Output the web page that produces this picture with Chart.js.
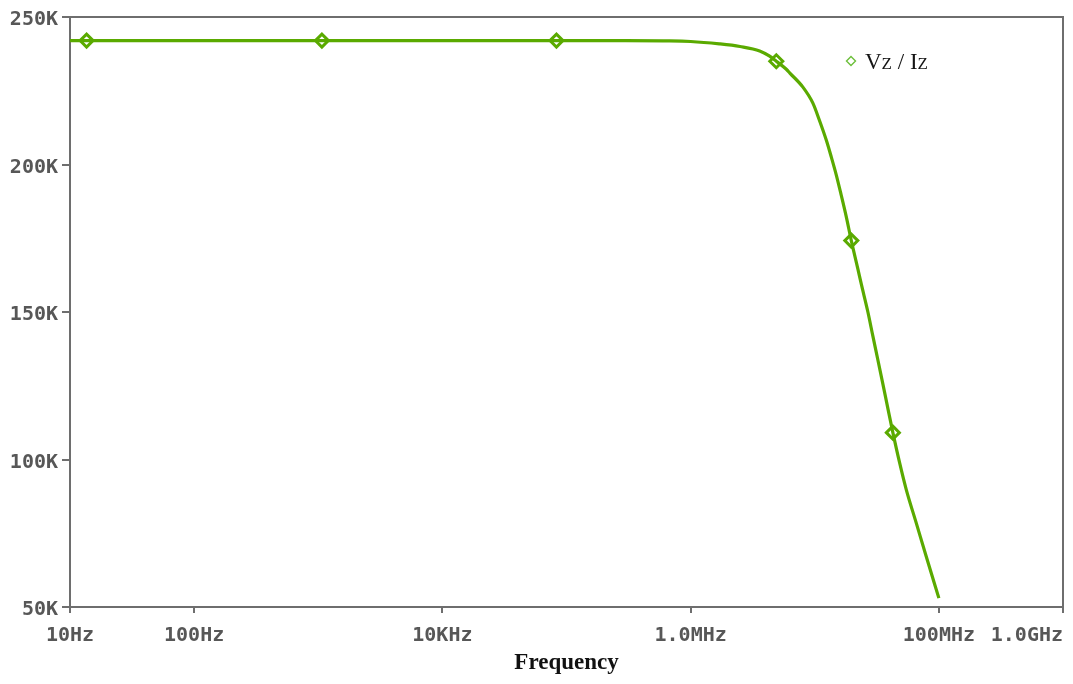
<!DOCTYPE html>
<html>
<head>
<meta charset="utf-8">
<script src="https://cdn.jsdelivr.net/npm/chart.js@4/dist/chart.umd.min.js"></script>
<style>
  html, body { margin: 0; padding: 0; background: #ffffff; }
  #wrap { width: 1073px; height: 684px; position: relative; }
</style>
</head>
<body>
<div id="wrap"><canvas id="c" width="1073" height="684"></canvas></div>
<script>
// ---- data ----
const freqHz = [10, 100, 1e3, 1e4, 1e5, 3e5, 6e5, 1.0e6, 1.7e6, 2.5e6, 3.6e6, 4.3e6, 4.9e6, 5.9e6, 6.3e6, 8.0e6, 9.66e6,
  10.9e6, 12.4e6, 13.6e6, 14.9e6, 16.3e6, 17.9e6, 19.7e6, 22.2e6, 23.7e6, 26.8e6, 29.4e6, 32.2e6, 35.3e6, 38.7e6, 42.6e6,
  48.2e6, 54.6e6, 65.6e6, 79.0e6, 100e6];
const impedance = [242000, 242000, 242000, 242000, 242000, 242000, 241900, 241700, 240900, 240000, 238500, 236800, 235000, 232300, 231000, 226300, 220800,
  215000, 208200, 202500, 196500, 189800, 182500, 174200, 164800, 159500, 150000, 141800, 133900, 125800, 117600, 109100,
  99000, 89800, 78600, 67200, 53000];
const markerFreqHz = [13.6, 1.07e3, 83e3, 4.9e6, 19.7e6, 42.6e6];
const markerImpedance = [242000, 242000, 242000, 235000, 174200, 109100];
const xTickValues = [10, 100, 1e4, 1e6, 1e8, 1e9];
const xTickLabels = ['10Hz', '100Hz', '10KHz', '1.0MHz', '100MHz', '1.0GHz'];
const yTickValues = [50000, 100000, 150000, 200000, 250000];
const yTickLabels = ['50K', '100K', '150K', '200K', '250K'];
const seriesName = 'Vz / Iz';
const xTitle = 'Frequency';

// ---- styles ----
const GREEN = '#5aaa00';
const AXIS = '#6e6e6e';
const TICKTXT = '#575757';
const tickFont = { family: '"DejaVu Sans Mono", "Liberation Mono", monospace', size: 20, weight: 'bold' };

const lineData = freqHz.map((f, i) => ({ x: f, y: impedance[i] }));
const markerData = markerFreqHz.map((f, i) => ({ x: f, y: markerImpedance[i] }));

const framePlugin = {
  id: 'frame',
  beforeDatasetsDraw(chart) {
    const { ctx, chartArea: a } = chart;
    ctx.save();
    ctx.strokeStyle = AXIS;
    ctx.lineWidth = 2;
    ctx.strokeRect(a.left, a.top, a.right - a.left, a.bottom - a.top);
    ctx.restore();
  }
};

const legendPlugin = {
  id: 'innerLegend',
  afterDraw(chart) {
    const { ctx, chartArea: a } = chart;
    const dx = a.left + 781, dy = a.top + 44;
    ctx.save();
    // diamond symbol
    ctx.strokeStyle = '#6cbf3a';
    ctx.fillStyle = '#ffffff';
    ctx.lineWidth = 1.4;
    ctx.beginPath();
    ctx.moveTo(dx, dy - 4.5);
    ctx.lineTo(dx + 4.5, dy);
    ctx.lineTo(dx, dy + 4.5);
    ctx.lineTo(dx - 4.5, dy);
    ctx.closePath();
    ctx.fill();
    ctx.stroke();
    // text "Vz / Iz" with small Z
    const big = '23px "Liberation Serif", "Times New Roman", serif';
    const small = '17px "Liberation Serif", "Times New Roman", serif';
    const parts = [['V', big], ['Z', small], [' / I', big], ['Z', small]];
    let x = dx + 14;
    const base = dy + 7.5;
    ctx.fillStyle = '#141414';
    ctx.textBaseline = 'alphabetic';
    ctx.textAlign = 'left';
    for (const [t, f] of parts) {
      ctx.font = f;
      ctx.fillText(t, x, base);
      x += ctx.measureText(t).width;
    }
    ctx.restore();
  }
};

new Chart(document.getElementById('c'), {
  type: 'line',
  data: {
    datasets: [
      {
        label: seriesName,
        data: lineData,
        borderColor: GREEN,
        borderWidth: 3.2,
        pointRadius: 0,
        fill: false,
        cubicInterpolationMode: 'monotone'
      },
      {
        label: seriesName + ' markers',
        data: markerData,
        showLine: false,
        pointStyle: 'rectRot',
        pointRadius: 6.5,
        pointBorderWidth: 3,
        pointBorderColor: GREEN,
        pointBackgroundColor: '#ffffff'
      }
    ]
  },
  options: {
    responsive: false,
    animation: false,
    devicePixelRatio: 1,
    layout: { padding: { top: 17, right: 10, bottom: 0, left: 0 } },
    plugins: { legend: { display: false }, tooltip: { enabled: false } },
    scales: {
      x: {
        type: 'logarithmic',
        min: 10,
        max: 1e9,
        afterBuildTicks(scale) { scale.ticks = xTickValues.map(v => ({ value: v })); },
        afterFit(scale) { scale.height = 77; scale.paddingRight = 0; },
        ticks: {
          autoSkip: false,
          maxRotation: 0,
          minRotation: 0,
          padding: 11,
          color: TICKTXT,
          font: tickFont,
          callback(value, index) {
            const lbl = xTickLabels[index];
            // last label sits right-aligned against the frame edge
            return index === xTickLabels.length - 1 ? lbl + ' '.repeat(lbl.length) : lbl;
          }
        },
        grid: { display: true, drawOnChartArea: false, drawTicks: true, tickLength: 6, color: AXIS, lineWidth: 2 },
        border: { display: true, color: AXIS, width: 2 },
        title: {
          display: true,
          text: xTitle,
          color: '#111111',
          font: { family: '"Liberation Serif", "Times New Roman", serif', size: 23, weight: 'bold' },
          padding: { top: 0, bottom: 7 }
        }
      },
      y: {
        type: 'linear',
        min: 50000,
        max: 250000,
        afterBuildTicks(scale) { scale.ticks = yTickValues.map(v => ({ value: v })); },
        afterFit(scale) { scale.width = 70; },
        ticks: {
          padding: 4,
          labelOffset: 3,
          color: TICKTXT,
          font: tickFont,
          callback(value, index) { return yTickLabels[index]; }
        },
        grid: { display: true, drawOnChartArea: false, drawTicks: true, tickLength: 8, color: AXIS, lineWidth: 2 },
        border: { display: true, color: AXIS, width: 2 }
      }
    }
  },
  plugins: [framePlugin, legendPlugin]
});
</script>
</body>
</html>
